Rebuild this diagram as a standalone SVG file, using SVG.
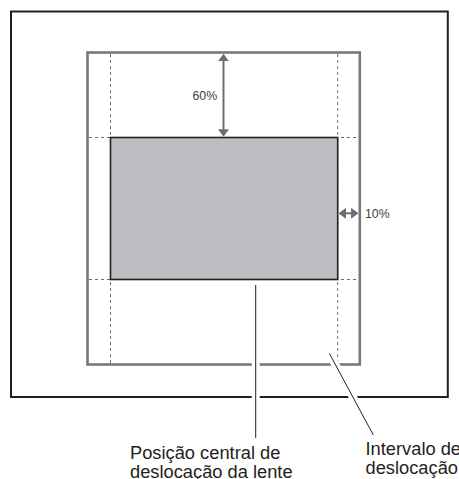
<svg xmlns="http://www.w3.org/2000/svg" width="459" height="479" viewBox="0 0 459 479">
  <style>
    .frame{fill:#ffffff;stroke:#231f20;stroke-width:2}
    .range{fill:none;stroke:#77787b;stroke-width:2.6}
    .dash{fill:none;stroke:#6d6e71;stroke-width:1;stroke-dasharray:3,3}
    .image{fill:#bcbdc0;stroke:#231f20;stroke-width:1.6}
    .dim{fill:none;stroke:#6d6e71;stroke-width:2}
    .halo{fill:none;stroke:#ffffff;stroke-width:8}
    .leader{fill:none;stroke:#231f20;stroke-width:1}
    .small{font-family:"Liberation Sans",Arial,sans-serif;font-size:12.3px;fill:#414042}
    .label{font-family:"Liberation Sans",Arial,sans-serif;font-size:18.3px;fill:#231f20}
  </style>
  <defs>
    <marker id="ah" viewBox="0 0 7.5 11" refX="3.75" refY="5.5" markerWidth="7.5" markerHeight="11" orient="auto-start-reverse" markerUnits="userSpaceOnUse">
      <path d="M0,0 L7.5,5.5 L0,11 Z" fill="#6d6e71"/>
    </marker>
  </defs>
  <rect width="459" height="479" fill="#ffffff"/>

  <g id="screen-frame">
    <rect class="frame" x="11" y="11.5" width="436.8" height="385.5"/>
  </g>

  <g id="shift-range">
    <rect class="range" x="87.5" y="52.5" width="272.3" height="312"/>
    <line class="dash" x1="110.5" y1="54" x2="110.5" y2="363"/>
    <line class="dash" x1="337.7" y1="54" x2="337.7" y2="363"/>
    <line class="dash" x1="89" y1="137.5" x2="358.5" y2="137.5"/>
    <line class="dash" x1="89" y1="279.5" x2="358.5" y2="279.5"/>
  </g>

  <g id="projected-image">
    <rect class="image" x="110.5" y="137.5" width="227.2" height="142"/>
  </g>

  <g id="labels">
    <text class="small" x="192.5" y="100">60%</text>
    <text class="small" x="365" y="217.8">10%</text>
    <text class="label" x="130" y="459">Posição central de</text>
    <text class="label" x="130" y="478">deslocação da lente</text>
    <text class="label" x="365.5" y="455">Intervalo de</text>
    <text class="label" x="365.5" y="473.7">deslocação</text>
  </g>

  <g id="connectors">
    <line class="dim" x1="223.5" y1="57.5" x2="223.5" y2="133" marker-start="url(#ah)" marker-end="url(#ah)"/>
    <line class="dim" x1="342.3" y1="213.3" x2="354.8" y2="213.3" marker-start="url(#ah)" marker-end="url(#ah)"/>
    <line class="halo" x1="255.7" y1="350" x2="255.7" y2="410"/>
    <line class="halo" x1="331" y1="356.5" x2="361" y2="412"/>
    <line class="leader" x1="255.7" y1="285" x2="255.7" y2="438"/>
    <line class="leader" x1="329.3" y1="353.3" x2="373.3" y2="435"/>
  </g>
</svg>
